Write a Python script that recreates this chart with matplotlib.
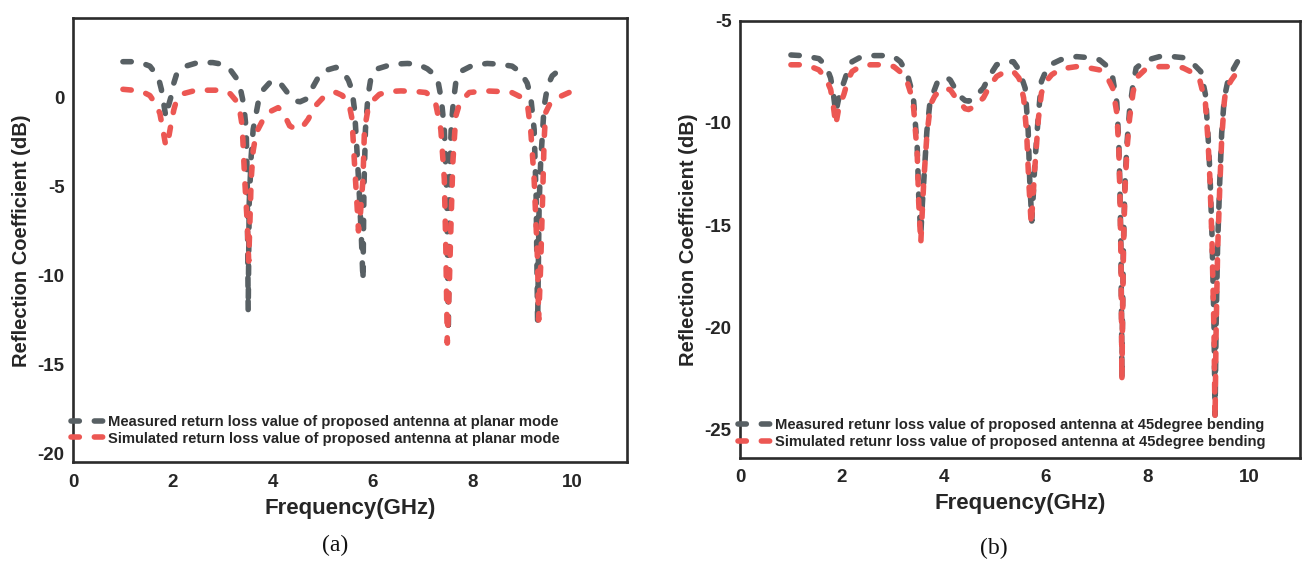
import matplotlib
matplotlib.use("Agg")
import matplotlib.pyplot as plt
from matplotlib.font_manager import FontProperties

plt.rcParams["axes.unicode_minus"] = False

# ---- (a) planar mode ----
freq_a_meas = [1.00, 1.20, 1.40, 1.54, 1.65, 1.72, 1.77, 1.82, 1.86, 1.91, 1.97, 2.02, 2.07,
               2.20, 2.50, 2.80, 3.00, 3.15, 3.28, 3.36, 3.42, 3.47, 3.49, 3.51, 3.53, 3.57,
               3.61, 3.71, 3.82, 3.95, 4.05, 4.15, 4.30, 4.45, 4.55, 4.67, 4.80, 4.91, 5.05,
               5.27, 5.42, 5.52, 5.59, 5.64, 5.68, 5.74, 5.78, 5.81, 5.83, 5.86, 5.91, 5.97,
               6.10, 6.40, 6.70, 6.91, 7.10, 7.25, 7.32, 7.38, 7.44, 7.49, 7.52, 7.55, 7.58,
               7.62, 7.67, 7.80, 8.01, 8.30, 8.54, 8.80, 8.97, 9.10, 9.17, 9.24, 9.28, 9.31,
               9.34, 9.37, 9.44, 9.51, 9.60, 9.75, 9.90]
s11_a_meas = [2.00, 2.00, 1.90, 1.75, 1.35, 1.00, 0.45, -0.40, -1.10, -0.50, 0.10, 0.80, 1.25,
              1.70, 1.95, 1.95, 1.85, 1.55, 1.05, 0.40, -0.40, -1.80, -4.50, -12.0, -6.00, -3.30,
              -1.80, -0.30, 0.45, 0.85, 0.95, 0.80, 0.25, -0.20, -0.25, -0.10, 0.55, 1.10, 1.50,
              1.68, 1.40, 0.95, 0.40, -0.68, -2.50, -5.60, -8.00, -10.3, -5.00, -1.80, 0.07, 1.10,
              1.60, 1.86, 1.90, 1.86, 1.60, 1.25, 0.80, -0.10, -1.80, -5.60, -13.2, -4.00, -1.60,
              -0.30, 0.83, 1.50, 1.80, 1.90, 1.86, 1.75, 1.40, 0.80, 0.07, -1.80, -5.60, -12.7,
              -6.00, -3.70, -0.50, 0.64, 1.20, 1.55, 1.80]

freq_a_sim = [1.00, 1.20, 1.40, 1.54, 1.65, 1.74, 1.80, 1.86, 1.92, 1.97, 2.02, 2.07, 2.20,
              2.47, 2.97, 3.15, 3.27, 3.35, 3.39, 3.44, 3.49, 3.52, 3.55, 3.57, 3.61, 3.67,
              3.81, 3.95, 4.11, 4.22, 4.34, 4.47, 4.60, 4.71, 4.85, 5.01, 5.15, 5.27, 5.40,
              5.47, 5.54, 5.59, 5.64, 5.69, 5.72, 5.76, 5.81, 5.84, 5.91, 6.00, 6.14, 6.35,
              6.57, 6.85, 7.07, 7.20, 7.27, 7.37, 7.44, 7.47, 7.50, 7.54, 7.57, 7.61, 7.67,
              7.74, 7.85, 7.94, 8.27, 8.77, 8.95, 9.11, 9.17, 9.24, 9.31, 9.33, 9.37, 9.41,
              9.44, 9.47, 9.55, 9.71, 9.94]
s11_a_sim = [0.45, 0.40, 0.30, 0.10, -0.35, -0.90, -1.80, -2.75, -2.20, -1.40, -0.70, -0.20, 0.20,
             0.40, 0.40, 0.20, -0.20, -0.90, -1.60, -4.60, -7.00, -9.20, -6.50, -4.60, -3.00, -2.00,
             -1.24, -0.80, -0.58, -0.90, -1.60, -1.80, -1.65, -1.24, -0.50, -0.02, 0.22, 0.27, 0.10,
             -0.20, -0.50, -1.20, -3.70, -6.00, -7.50, -6.50, -4.60, -1.80, -0.68, -0.20, 0.17, 0.33,
             0.36, 0.33, 0.27, 0.00, -0.40, -1.80, -4.60, -8.40, -13.8, -10.5, -7.50, -3.70, -1.06,
             -0.40, 0.00, 0.27, 0.36, 0.30, 0.05, -0.50, -1.80, -4.60, -9.30, -12.5, -9.50, -5.60,
             -2.40, -0.86, -0.40, -0.02, 0.27]

# ---- (b) 45 degree bending ----
freq_b_meas = [1.00, 1.20, 1.40, 1.55, 1.65, 1.72, 1.78, 1.83, 1.88, 1.93, 1.98, 2.04, 2.12,
               2.20, 2.35, 2.56, 2.80, 3.02, 3.15, 3.28, 3.36, 3.41, 3.48, 3.51, 3.55, 3.58,
               3.61, 3.67, 3.73, 3.80, 3.87, 3.97, 4.05, 4.13, 4.22, 4.32, 4.42, 4.49, 4.60,
               4.70, 4.78, 4.90, 5.04, 5.20, 5.37, 5.48, 5.60, 5.66, 5.69, 5.73, 5.76, 5.79,
               5.86, 5.92, 6.00, 6.09, 6.30, 6.61, 6.85, 7.06, 7.20, 7.32, 7.40, 7.44, 7.46,
               7.48, 7.495, 7.50, 7.51, 7.53, 7.56, 7.60, 7.65, 7.72, 7.78, 7.95, 8.24, 8.50,
               8.70, 8.90, 9.05, 9.14, 9.19, 9.23, 9.27, 9.31, 9.33, 9.35, 9.38, 9.42, 9.46,
               9.51, 9.58, 9.68, 9.77, 9.82]
s11_b_meas = [-6.67, -6.70, -6.78, -6.85, -7.10, -7.40, -7.80, -8.50, -9.50, -8.90, -8.40, -8.00, -7.40,
              -7.00, -6.80, -6.70, -6.70, -6.75, -7.00, -7.56, -8.30, -8.93, -11.2, -13.6, -15.5, -14.0,
              -12.8, -10.4, -9.00, -8.50, -8.04, -7.80, -7.75, -7.90, -8.30, -8.69, -8.90, -8.93, -8.80,
              -8.50, -8.29, -7.70, -7.15, -7.00, -7.00, -7.40, -8.29, -10.4, -12.8, -14.8, -13.5, -12.0,
              -9.60, -7.96, -7.50, -7.15, -6.90, -6.75, -6.80, -6.91, -7.20, -7.80, -9.00, -11.0, -13.0,
              -16.0, -20.0, -22.5, -20.0, -16.0, -13.0, -11.0, -9.40, -8.10, -7.31, -6.95, -6.75, -6.75,
              -6.80, -7.10, -7.48, -8.60, -10.5, -12.5, -15.5, -20.0, -24.3, -20.0, -16.0, -13.0, -10.5,
              -8.80, -7.96, -7.40, -7.00, -6.90]

freq_b_sim = [1.00, 1.20, 1.40, 1.55, 1.65, 1.72, 1.78, 1.83, 1.88, 1.93, 1.98, 2.04, 2.12,
              2.20, 2.35, 2.56, 2.80, 3.02, 3.15, 3.28, 3.36, 3.41, 3.48, 3.51, 3.55, 3.58,
              3.61, 3.67, 3.74, 3.82, 3.90, 4.00, 4.13, 4.22, 4.32, 4.42, 4.49, 4.60, 4.70,
              4.78, 4.90, 5.04, 5.20, 5.37, 5.48, 5.57, 5.63, 5.67, 5.72, 5.75, 5.79, 5.86,
              5.92, 6.00, 6.12, 6.30, 6.61, 6.85, 7.06, 7.20, 7.32, 7.40, 7.44, 7.46, 7.48,
              7.495, 7.50, 7.51, 7.53, 7.56, 7.60, 7.65, 7.72, 7.78, 7.95, 8.24, 8.50, 8.70,
              8.90, 9.02, 9.14, 9.19, 9.23, 9.27, 9.31, 9.33, 9.35, 9.38, 9.42, 9.46, 9.51,
              9.54, 9.65, 9.77, 9.82]
s11_b_sim = [-7.15, -7.15, -7.25, -7.40, -7.70, -8.00, -8.36, -9.10, -10.1, -9.40, -9.00, -8.60, -7.90,
             -7.48, -7.25, -7.15, -7.15, -7.24, -7.50, -7.96, -8.60, -9.26, -11.5, -13.9, -15.9, -14.3,
             -12.8, -10.6, -9.10, -8.70, -8.45, -8.30, -8.37, -8.70, -9.00, -9.30, -9.34, -9.20, -8.95,
             -8.77, -8.20, -7.72, -7.50, -7.48, -7.80, -8.77, -10.5, -12.8, -15.0, -13.8, -12.2, -9.80,
             -8.53, -8.00, -7.64, -7.35, -7.24, -7.30, -7.40, -7.70, -8.30, -9.50, -11.3, -13.3, -16.3,
             -20.3, -22.6, -20.3, -16.3, -13.3, -11.3, -9.80, -8.50, -7.80, -7.40, -7.24, -7.24, -7.30,
             -7.55, -7.80, -9.00, -10.8, -12.8, -15.8, -20.3, -24.5, -20.3, -16.3, -13.3, -10.8, -9.00,
             -8.37, -7.90, -7.48, -7.40]

label_a_meas = "Measured return loss value of proposed antenna at planar mode"
label_a_sim = "Simulated return loss value of proposed antenna at planar mode"
label_b_meas = "Measured retunr loss value of proposed antenna at 45degree bending"
label_b_sim = "Simulated retunr loss value of proposed antenna at 45degree bending"

xticks = [0, 2, 4, 6, 8, 10]
yticks_a = [0, -5, -10, -15, -20]
yticks_b = [-5, -10, -15, -20, -25]

GRAY = "#586064"
RED = "#ec5753"
TXT = "#262626"
SANS = "Liberation Sans"

fig = plt.figure(figsize=(13.04, 5.64), dpi=100)
ax_a = fig.add_axes([0.056, 0.180, 0.4248, 0.788])
ax_b = fig.add_axes([0.5675, 0.188, 0.4295, 0.775])

dash = dict(linestyle=(0, (1.5, 2.7)), dash_capstyle="round", lw=4.0)
leg_font = FontProperties(family=SANS, weight="bold", size=10.6)


def style(ax, xlim, ylim, yticks):
    ax.set_xlim(*xlim)
    ax.set_ylim(*ylim)
    ax.set_xticks(xticks)
    ax.set_yticks(yticks)
    for lab in ax.get_xticklabels() + ax.get_yticklabels():
        lab.set_fontfamily(SANS)
        lab.set_fontweight("bold")
        lab.set_fontsize(13.5)
        lab.set_color(TXT)
    ax.tick_params(axis="y", length=0, pad=6)
    ax.tick_params(axis="x", length=0, pad=8)
    for sp in ax.spines.values():
        sp.set_linewidth(1.9)
        sp.set_color("#2b2b2b")
    ax.set_xlabel("Frequency(GHz)", fontfamily=SANS, fontweight="bold",
                  fontsize=16, color=TXT, labelpad=5)
    ax.set_ylabel("Reflection Coefficient (dB)", fontfamily=SANS, fontweight="bold",
                  fontsize=14.5, color=TXT, labelpad=5)


ax_a.plot(freq_a_meas, s11_a_meas, color=GRAY, label=label_a_meas, **dash)
ax_a.plot(freq_a_sim, s11_a_sim, color=RED, label=label_a_sim, **dash)
style(ax_a, (0, 11.1), (-20.5, 4.45), yticks_a)
leg = ax_a.legend(loc="center left", bbox_to_anchor=(-0.004, 0.072), frameon=False,
                  borderaxespad=0, borderpad=0, handlelength=2.5, handletextpad=0.05,
                  labelspacing=0.15, prop=leg_font)
for t in leg.get_texts():
    t.set_color(TXT)

ax_b.plot(freq_b_meas, s11_b_meas, color=GRAY, label=label_b_meas, **dash)
ax_b.plot(freq_b_sim, s11_b_sim, color=RED, label=label_b_sim, **dash)
style(ax_b, (0, 11.0), (-26.4, -5.0), yticks_b)
leg = ax_b.legend(loc="center left", bbox_to_anchor=(-0.004, 0.055), frameon=False,
                  borderaxespad=0, borderpad=0, handlelength=2.5, handletextpad=0.05,
                  labelspacing=0.2, prop=leg_font)
for t in leg.get_texts():
    t.set_color(TXT)

fig.text(335 / 1304, 1 - 545 / 564, "(a)", ha="center", va="center",
         fontfamily="Liberation Serif", fontsize=17, color="#111111")
fig.text(994 / 1304, 1 - 548 / 564, "(b)", ha="center", va="center",
         fontfamily="Liberation Serif", fontsize=17, color="#111111")

fig.savefig("out.png", dpi=100)
